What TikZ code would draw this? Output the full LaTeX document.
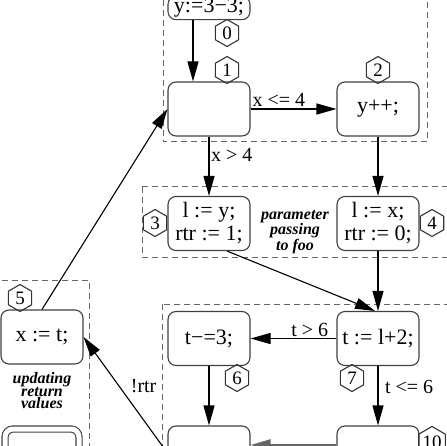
\documentclass[tikz,border=0pt]{standalone}
\usepackage{fontspec}
\setmainfont{Liberation Serif}
\usepackage{tikz}
\usetikzlibrary{arrows.meta, shapes.geometric, positioning, calc}

\begin{document}
\begin{tikzpicture}[
		x=1pt, y=-1pt, line width=1.1pt,
		block/.style={draw=black!75, rounded corners=8pt, minimum width=82pt, minimum height=54pt, inner sep=2pt, align=center, font=\fontsize{22}{23}\selectfont},
		tag/.style={draw=black!80, regular polygon, regular polygon sides=6, shape border rotate=30, minimum size=27pt, inner sep=0pt, font=\fontsize{19}{19}\selectfont},
		group/.style={draw=black!60, line width=1pt, dash pattern=on 6pt off 4pt},
		note/.style={align=center, font=\fontsize{16}{12.5}\selectfont\bfseries\itshape},
		cond/.style={font=\fontsize{20}{20}\selectfont, inner sep=1.5pt},
		>={Triangle[length=20pt, width=11pt]}
		]

		\useasboundingbox (0,0) rectangle (446,446);

		% --- Cadres pointillés ---
		\draw[group] (163,-10) rectangle (427,142);
		\draw[group] (142,187) rectangle (460,257);
		\draw[group] (162,304) rectangle (460,460);
		\draw[group] (-10,280) rectangle (89,460);

		% --- Blocs ---
		\node[block, minimum height=22pt] (n0) at (209,8) {y:=3−3;};
		\node[block] (n1) at (209,109) {};
		\node[block] (n2) at (378,109) {y++;};
		\node[block] (n3) at (209,223.5) {l := y;\\rtr := 1;};
		\node[block] (n4) at (378,223.5) {l := x;\\rtr := 0;};
		\node[block] (n5) at (42,337) {x := t;};
		\node[block] (n6) at (209,338.5) {t−=3;};
		\node[block] (n7) at (378,338.5) {t := l+2;};
		\node[block] (n8) at (209,453) {};
		\node[block] (n10) at (378,453) {};
		\node[block, double, double distance=5pt, minimum width=74pt, minimum height=46pt] (n9) at (42,452) {};

		% --- Numéros ---
		\node[tag] (t0) at (227,33) {0};
		\node[tag] (t1) at (227,70) {1};
		\node[tag] (t2) at (378,70) {2};
		\node[tag] (t3) at (155,223) {3};
		\node[tag] (t4) at (432,223) {4};
		\node[tag] (t5) at (20,298) {5};
		\node[tag] (t6) at (237,378) {6};
		\node[tag] (t7) at (352,378) {7};
		\node[tag] (t10) at (432,442) {10};

		% --- Commentaires ---
		\node[note] (pp) at (295,232) {parameter\\passing\\to foo};
		\node[note] (urv) at (42,391) {updating\\return\\values};

		% --- Arcs ---
		\draw[->] ([xshift=-16pt]n0.south) -- ([xshift=-16pt]n1.north);
		\draw[->] (n1) to node[cond, pos=0.33, above] {x <= 4} (n2);
		\draw[->] (n1) to node[cond, pos=0.31, right] {x > 4} (n3);
		\draw[->] (n2) -- (n4);
		\draw[->] ([xshift=18pt]n3.south) -- ([xshift=-3pt]n7.north);
		\draw[->] (n4) -- (n7);
		\draw[->] (n7) to node[cond, pos=0.31, above] {t > 6} (n6);
		\draw[->] (n6) -- (n8);
		\draw[->] (n7) to node[cond, pos=0.36, right=5pt] {t <= 6} (n10);
		\draw[->, line width=2.4pt, draw=black!60] ([yshift=8pt]n10.west) -- ([yshift=8pt]n8.east);
		\draw[->] (n8.west) to node[cond, pos=0.58, right=10pt] {!rtr} (n5.east);
		\draw[->] (n5.north) -- (n1.west);

	\end{tikzpicture}
\end{document}
